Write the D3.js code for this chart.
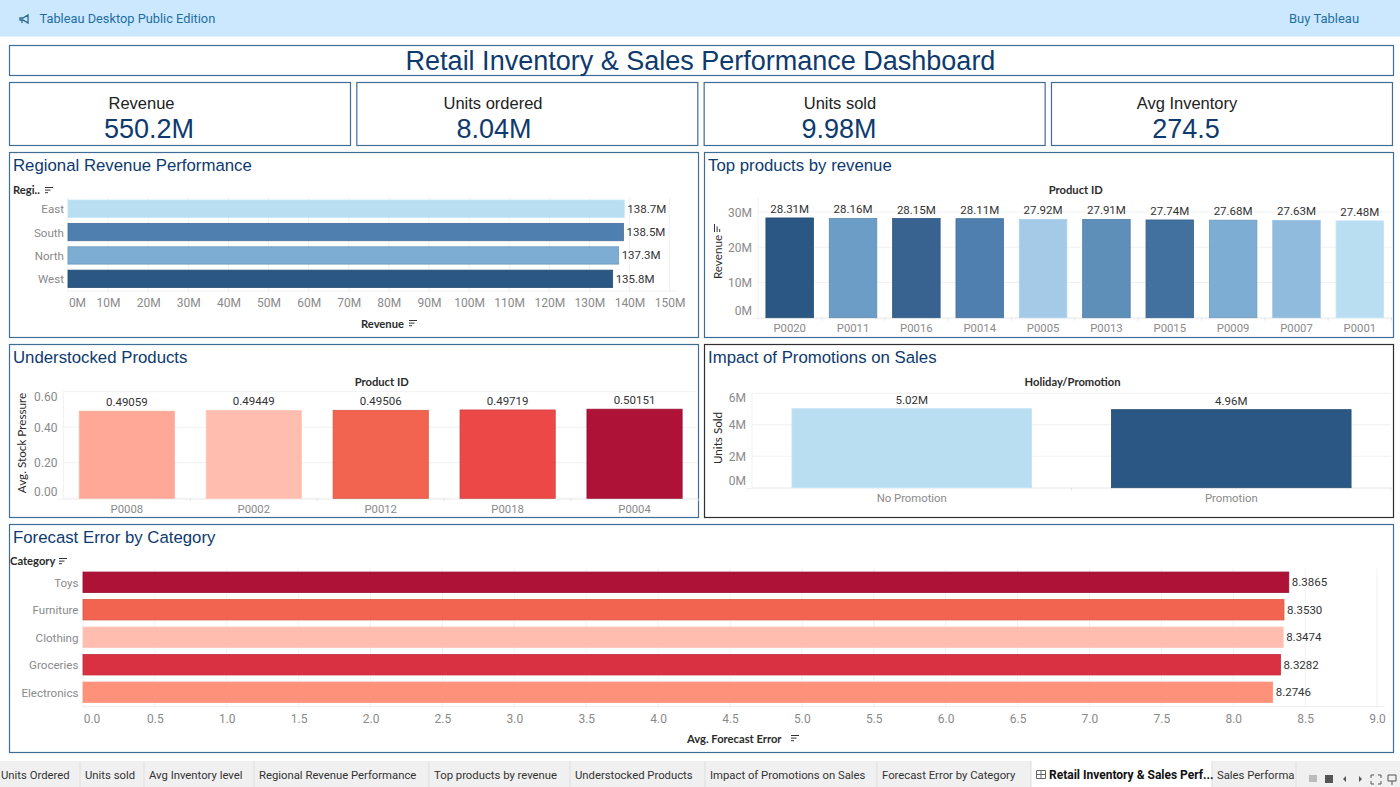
<!DOCTYPE html>
<html>
<head>
<meta charset="utf-8">
<title>Retail Inventory & Sales Performance Dashboard</title>
<script src="https://cdn.jsdelivr.net/npm/d3@7"></script>
<style>
  body { margin: 0; background: #fff; overflow: hidden; }
  svg { display: block; }
  text { font-family: Roboto, Lato, sans-serif; }
  .head, .kpi { font-family: "Liberation Sans", Arial, sans-serif; fill: #0e3a6e; }
  .kpi { fill: #222; }
  .tick text { fill: #8a8a8a; font-size: 12px; font-family: Roboto, Lato, sans-serif; }
  .cat text { font-size: 11.6px; }
  .band text { font-size: 11.3px; }
  .lab { fill: #333; font-size: 11.5px; }
  .hdr { fill: #2b2b2b; font-size: 11.2px; font-weight: 700; font-family: Lato, sans-serif; }
  .ytitle { fill: #2b2b2b; font-size: 11.7px; font-family: Lato, sans-serif; }
</style>
</head>
<body>
<script>
// data
const kpiNames = ['Revenue', 'Units ordered', 'Units sold', 'Avg Inventory']
const kpiValues = ['550.2M', '8.04M', '9.98M', '274.5']

const regions = ['East', 'South', 'North', 'West']
const regionRevenue = [138.7, 138.5, 137.3, 135.8]
const regionTicks = [0, 10, 20, 30, 40, 50, 60, 70, 80, 90, 100, 110, 120, 130, 140, 150]
const regionColors = ['#b9ddf1', '#4f7fae', '#7eadd3', '#2a5783']

const products = ['P0020', 'P0011', 'P0016', 'P0014', 'P0005', 'P0013', 'P0015', 'P0009', 'P0007', 'P0001']
const productRevenue = [28.31, 28.16, 28.15, 28.11, 27.92, 27.91, 27.74, 27.68, 27.63, 27.48]
const productTicks = [0, 10, 20, 30]
const productColors = ['#2a5783', '#6b9dc6', '#386390', '#4f7fae', '#a4cae8', '#5e8fb9', '#42709f', '#7eadd3', '#90bbdd', '#b9ddf1']

const understocked = ['P0008', 'P0002', 'P0012', 'P0018', 'P0004']
const stockPressure = [0.49059, 0.49449, 0.49506, 0.49719, 0.50151]
const stockTicks = [0, 0.2, 0.4, 0.6]
const stockColors = ['#ffa898', '#ffbdb0', '#f26450', '#ec4848', '#ae1237']

const promoNames = ['No Promotion', 'Promotion']
const promoUnits = [5.02, 4.96]
const promoTicks = [0, 2, 4, 6]
const promoColors = ['#b9ddf1', '#2a5783']

const categories = ['Toys', 'Furniture', 'Clothing', 'Groceries', 'Electronics']
const forecastError = [8.3865, 8.3530, 8.3474, 8.3282, 8.2746]
const errorTicks = [0, 0.5, 1, 1.5, 2, 2.5, 3, 3.5, 4, 4.5, 5, 5.5, 6, 6.5, 7, 7.5, 8, 8.5, 9]
const categoryColors = ['#ae1237', '#f26450', '#ffbdb0', '#d93141', '#fd917a']

const tabNames = ['Units Ordered', 'Units sold', 'Avg Inventory level', 'Regional Revenue Performance', 'Top products by revenue', 'Understocked Products', 'Impact of Promotions on Sales', 'Forecast Error by Category', 'Retail Inventory & Sales Perf...', 'Sales Performa']
const tabEdges = [-7, 80, 144, 254, 429, 570, 705, 877, 1031, 1212, 1296]

const border = '#3f6d96'
const grid = '#f1f1f1'
// kpi text does not sit in the same spot in each card
const kpiLabelX = [141.5, 493, 840, 1187]
const kpiValueX = [149, 494, 839, 1186]

const svg = d3.select('body').append('svg').attr('width', 1400).attr('height', 787)

// top banner
svg.append('rect').attr('width', 1400).attr('height', 36.5).attr('fill', '#cce8ff')
svg.append('path').attr('d', 'M20 18h3l5-3v8l-5-3h-3zM22 20v3').attr('fill', 'none').attr('stroke', '#2c6a94').attr('stroke-width', 1.3)
svg.append('text').attr('x', 39.5).attr('y', 23).attr('font-size', 12.8).attr('fill', '#1f6f9f').text('Tableau Desktop Public Edition')
svg.append('text').attr('x', 1289).attr('y', 23).attr('font-size', 13).attr('fill', '#1f6f9f').text('Buy Tableau')

const box = (x0, y0, x1, y1, color) => {
  svg.append('rect')
    .attr('x', x0 + 0.5).attr('y', y0 + 0.5)
    .attr('width', x1 - x0).attr('height', y1 - y0)
    .attr('fill', '#fff').attr('stroke', color || border).attr('stroke-width', 1.2)
}

box(9, 45, 1393, 75)
svg.append('text').attr('class', 'head').attr('x', 700.5).attr('y', 70)
  .attr('text-anchor', 'middle').attr('font-size', 27).text('Retail Inventory & Sales Performance Dashboard')

// kpi cards
const kpiX = d3.scaleBand().domain(kpiNames).range([9, 1398.3])
kpiNames.forEach((name, i) => {
  const x0 = kpiX(name)
  box(x0, 82, x0 + 341, 145)
  svg.append('text').attr('class', 'kpi').attr('x', kpiLabelX[i]).attr('y', 109).attr('text-anchor', 'middle')
    .attr('font-size', 16.5).text(name)
  svg.append('text').attr('class', 'head').attr('x', kpiValueX[i]).attr('y', 138).attr('text-anchor', 'middle')
    .attr('font-size', 27).text(kpiValues[i])
})

const sortIcon = (x, y, vertical) => {
  const g = svg.append('g').attr('transform', `translate(${x},${y})` + (vertical ? ' rotate(-90)' : ''))
    .attr('stroke', '#333').attr('stroke-width', 1)
  ;[8, 5.5, 3].forEach((len, i) => {
    g.append('line').attr('x1', 0).attr('x2', len).attr('y1', i * 2.6 + 0.5).attr('y2', i * 2.6 + 0.5)
  })
}

const panelTitle = (x, y, label) => {
  svg.append('text').attr('class', 'head').attr('x', x).attr('y', y).attr('font-size', 16.8).text(label)
}

const edge = c => d3.hsl(c).l > 0.7 ? d3.color(c).brighter(0.1).formatHex() : d3.color(c).darker(0.35).formatHex()

// horizontal bars
const hBars = o => {
  const x = d3.scaleLinear().domain([0, o.max]).range([o.left, o.right])
  const y = d3.scaleBand().domain(o.names).range([o.top, o.bottom]).paddingInner(0.258).paddingOuter(0.129)

  svg.append('g').selectAll('line').data(o.ticks).join('line')
    .attr('x1', d => x(d)).attr('x2', d => x(d))
    .attr('y1', o.top).attr('y2', o.bottom + 2)
    .attr('stroke', grid)
  svg.append('line').attr('x1', o.left).attr('x2', o.right + 8).attr('y1', o.bottom + 0.5).attr('y2', o.bottom + 0.5).attr('stroke', grid)

  svg.append('g').selectAll('rect').data(o.names).join('rect')
    .attr('x', x(0)).attr('y', d => y(d))
    .attr('width', (d, i) => x(o.values[i]) - x(0)).attr('height', y.bandwidth())
    .attr('fill', (d, i) => o.colors[i]).attr('stroke', (d, i) => edge(o.colors[i])).attr('stroke-width', 0.8)

  svg.append('g').selectAll('text').data(o.names).join('text')
    .attr('class', 'lab')
    .attr('x', (d, i) => x(o.values[i]) + 3)
    .attr('y', d => y(d) + y.bandwidth() / 2 + 4)
    .text((d, i) => o.labelFmt(o.values[i]))

  const axisX = svg.append('g').attr('transform', `translate(0,${o.axisY})`)
    .call(d3.axisBottom(x).tickValues(o.ticks).tickSize(0).tickPadding(0).tickFormat(o.fmt))
  axisX.select('.domain').remove()
  axisX.selectAll('.tick text').attr('dy', 0).attr('dx', (d, i) => i ? 0 : o.firstShift)

  const axisY = svg.append('g').attr('class', 'cat').attr('transform', `translate(${o.left},0)`)
    .call(d3.axisLeft(y).tickSize(0).tickPadding(o.pad))
  axisY.select('.domain').remove()
  axisY.selectAll('.tick text').attr('dy', '0.4em')
}

// vertical bars
const vBars = o => {
  const x = d3.scaleBand().domain(o.names).range([o.left, o.right]).paddingInner(0.25).paddingOuter(0.125)
  const y = d3.scaleLinear().domain([0, o.max]).range([o.base, o.top])

  svg.append('g').selectAll('line').data(o.ticks).join('line')
    .attr('x1', o.left).attr('x2', o.right)
    .attr('y1', d => y(d)).attr('y2', d => y(d))
    .attr('stroke', grid)
  svg.append('line').attr('x1', o.left).attr('x2', o.left).attr('y1', o.gridTop).attr('y2', o.base + 2).attr('stroke', grid)
  svg.append('line').attr('x1', o.left - 6).attr('x2', o.right).attr('y1', o.base + 1).attr('y2', o.base + 1).attr('stroke', grid)
  svg.append('g').selectAll('line').data(o.names).join('line')
    .attr('x1', d => x(d) + x.bandwidth() + x.step() * 0.125).attr('x2', d => x(d) + x.bandwidth() + x.step() * 0.125)
    .attr('y1', o.base).attr('y2', o.base + 3)
    .attr('stroke', '#e4e4e4')

  svg.append('g').selectAll('rect').data(o.names).join('rect')
    .attr('x', d => x(d)).attr('width', x.bandwidth())
    .attr('y', (d, i) => y(o.values[i])).attr('height', (d, i) => y(0) - y(o.values[i]))
    .attr('fill', (d, i) => o.colors[i]).attr('stroke', (d, i) => edge(o.colors[i])).attr('stroke-width', 0.8)

  svg.append('g').selectAll('text').data(o.names).join('text')
    .attr('class', 'lab').attr('text-anchor', 'middle')
    .attr('x', d => x(d) + x.bandwidth() / 2)
    .attr('y', (d, i) => y(o.values[i]) - 5)
    .text((d, i) => o.labelFmt(o.values[i]))

  const axisY = svg.append('g').attr('transform', `translate(${o.left},0)`)
    .call(d3.axisLeft(y).tickValues(o.ticks).tickSize(0).tickPadding(6).tickFormat(o.fmt))
  axisY.select('.domain').remove()
  axisY.selectAll('.tick text')
    .attr('dy', (d, i) => i === 0 ? -3 : (i === o.ticks.length - 1 ? 4 + o.topShift : 4))

  const axisX = svg.append('g').attr('class', 'band').attr('transform', `translate(0,${o.labelY})`)
    .call(d3.axisBottom(x).tickSize(0).tickPadding(0))
  axisX.select('.domain').remove()
  axisX.selectAll('.tick text').attr('dy', 0)

  svg.append('text').attr('class', 'hdr').attr('text-anchor', 'middle')
    .attr('x', (o.left + o.right) / 2 + 1).attr('y', o.hdrY).text(o.header)
  svg.append('text').attr('class', 'ytitle').attr('text-anchor', 'middle')
    .attr('transform', `translate(${o.titleX},${o.titleY}) rotate(-90)`).text(o.yTitle)
}

// regional revenue
box(9, 152, 698, 337)
panelTitle(13, 171, 'Regional Revenue Performance')
svg.append('text').attr('class', 'hdr').attr('x', 13).attr('y', 194).text('Regi..')
sortIcon(45, 187)
hBars({
  names: regions, values: regionRevenue, colors: regionColors, ticks: regionTicks,
  max: 150, left: 68, right: 669.6, top: 197, bottom: 290.5, axisY: 307, firstShift: 9, pad: 4,
  fmt: d => d + 'M', labelFmt: d => d.toFixed(1) + 'M'
})
svg.append('text').attr('class', 'hdr').attr('x', 361).attr('y', 328).text('Revenue')
sortIcon(409, 320)

// top products
box(704, 152, 1393, 337)
panelTitle(708, 171, 'Top products by revenue')
vBars({
  names: products, values: productRevenue, colors: productColors, ticks: productTicks,
  max: 30, left: 758, right: 1391.5, base: 317.7, top: 212, gridTop: 197, labelY: 332, topShift: 0,
  fmt: d => d + 'M', labelFmt: d => d.toFixed(2) + 'M',
  header: 'Product ID', hdrY: 194, yTitle: 'Revenue', titleX: 722, titleY: 257
})
sortIcon(714, 232, true)

// understocked
box(9, 344, 698, 517)
panelTitle(13, 363, 'Understocked Products')
vBars({
  names: understocked, values: stockPressure, colors: stockColors, ticks: stockTicks,
  max: 0.6, left: 63.4, right: 698, base: 498.3, top: 391.7, gridTop: 391, labelY: 513, topShift: 5,
  fmt: d3.format('.2f'), labelFmt: d3.format('.5f'),
  header: 'Product ID', hdrY: 386, yTitle: 'Avg. Stock Pressure', titleX: 26, titleY: 443
})

// promotions
box(704, 344, 1393, 517, '#2f2f2f')
panelTitle(708, 363, 'Impact of Promotions on Sales')
vBars({
  names: promoNames, values: promoUnits, colors: promoColors, ticks: promoTicks,
  max: 6, left: 752, right: 1391, base: 487.7, top: 393.3, gridTop: 393, labelY: 502, topShift: 4,
  fmt: d => d + 'M', labelFmt: d => d.toFixed(2) + 'M',
  header: 'Holiday/Promotion', hdrY: 386, yTitle: 'Units Sold', titleX: 722, titleY: 438
})

// forecast error
box(9, 524, 1393, 752)
panelTitle(13, 543, 'Forecast Error by Category')
svg.append('text').attr('class', 'hdr').attr('x', 10).attr('y', 565).text('Category')
sortIcon(59, 558)
hBars({
  names: categories, values: forecastError, colors: categoryColors, ticks: errorTicks,
  max: 9, left: 83, right: 1377, top: 568.5, bottom: 706, axisY: 723, firstShift: 8.5, pad: 4.5,
  fmt: d => d.toFixed(1), labelFmt: d => d.toFixed(4)
})
svg.append('text').attr('class', 'hdr').attr('x', 687).attr('y', 743).text('Avg. Forecast Error')
sortIcon(791, 735)

// sheet tabs
svg.append('rect').attr('y', 761).attr('width', 1400).attr('height', 26).attr('fill', '#f0f0f0')
svg.append('rect').attr('x', 1031).attr('y', 761).attr('width', 181).attr('height', 26).attr('fill', '#fff')
svg.append('g').selectAll('line').data(tabEdges.slice(1)).join('line')
  .attr('x1', d => d).attr('x2', d => d).attr('y1', 761).attr('y2', 787).attr('stroke', '#dedede')
svg.append('g').selectAll('text').data(tabNames).join('text')
  .attr('x', (d, i) => tabEdges[i] + (i === 8 ? 18 : 5) + (i === 0 ? 3 : 0))
  .attr('y', 779)
  .attr('font-size', (d, i) => i === 8 ? 12 : 11.3)
  .attr('font-weight', (d, i) => i === 8 ? 700 : 400)
  .attr('fill', (d, i) => i === 8 ? '#111' : '#333')
  .text(d => d)
// sheet icon and the little controls on the right
svg.append('path').attr('d', 'M1036.5 770.5h9v8h-9zM1036.5 774.5h9M1041 770.5v8').attr('fill', 'none').attr('stroke', '#666')
svg.append('rect').attr('x', 1309).attr('y', 775).attr('width', 8).attr('height', 7).attr('fill', '#bbb')
svg.append('rect').attr('x', 1325).attr('y', 775).attr('width', 8).attr('height', 8).attr('fill', '#555')
svg.append('path').attr('d', 'M1346 776l-3 3 3 3zM1359 776l3 3-3 3z').attr('fill', '#555')
svg.append('path').attr('d', 'M1371 778v-3h3M1378 775h3v3M1381 781v3h-3M1374 784h-3v-3M1388 775h8v6h-8zM1392 781v4').attr('fill', 'none').attr('stroke', '#555')
</script>
</body>
</html>
